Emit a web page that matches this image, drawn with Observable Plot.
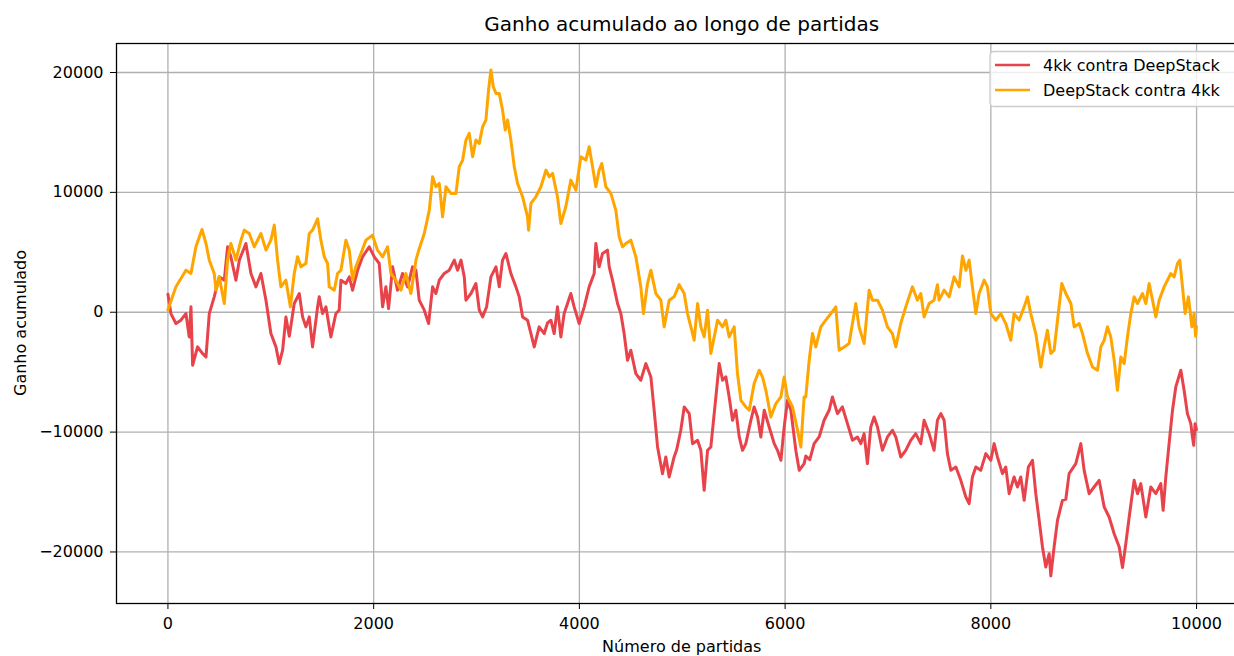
<!DOCTYPE html>
<html><head><meta charset="utf-8">
<script src="https://cdn.jsdelivr.net/npm/d3@7"></script>
<script src="https://cdn.jsdelivr.net/npm/@observablehq/plot@0.6"></script>
<style>
html,body{margin:0;padding:0;background:#fff;overflow:hidden}
#wrap{position:relative;width:1234px;height:656px;overflow:hidden;background:#fff}
#wrap svg{position:absolute;left:0;top:0;max-width:none !important;overflow:visible}
</style>
</head><body><div id="wrap"></div>
<script>
const titleText = "Ganho acumulado ao longo de partidas";
const xLabel = "Número de partidas";
const yLabel = "Ganho acumulado";
const seriesNames = ["4kk contra DeepStack", "DeepStack contra 4kk"];
const seriesColors = ["#e8434b", "#ffa500"];
const xTicks = [0, 2000, 4000, 6000, 8000, 10000];
const yTicks = [-20000, -10000, 0, 10000, 20000];

const redX = [0,29,78,126,175,207,224,240,288,337,370,402,450,499,548,580,612,661,694,758,807,856,904,953,1001,1050,1082,1115,1147,1180,1228,1277,1309,1341,1374,1406,1455,1471,1503,1536,1584,1633,1665,1682,1730,1763,1795,1844,1892,1957,2006,2054,2087,2119,2145,2184,2232,2281,2330,2378,2411,2443,2492,2534,2573,2605,2638,2686,2735,2784,2816,2849,2881,2897,2946,2994,3027,3059,3098,3140,3189,3221,3253,3286,3334,3383,3415,3448,3496,3529,3561,3609,3658,3690,3723,3755,3787,3820,3852,3917,3949,3998,4047,4095,4144,4160,4192,4225,4273,4290,4322,4371,4403,4435,4468,4500,4549,4597,4646,4695,4727,4760,4808,4840,4873,4921,4945,4986,5019,5068,5100,5149,5181,5213,5246,5278,5327,5359,5392,5424,5456,5489,5521,5554,5586,5618,5667,5699,5732,5764,5797,5845,5894,5926,5959,5991,6023,6056,6104,6137,6185,6201,6240,6282,6331,6379,6428,6460,6509,6557,6606,6655,6703,6736,6768,6800,6833,6865,6898,6946,6995,7043,7076,7124,7173,7221,7270,7319,7351,7400,7448,7481,7514,7546,7578,7611,7660,7708,7757,7789,7821,7854,7902,7951,8000,8032,8064,8113,8145,8178,8226,8259,8291,8324,8365,8405,8437,8470,8502,8534,8567,8583,8615,8648,8696,8729,8761,8826,8875,8907,8956,9004,9053,9102,9150,9199,9248,9280,9312,9345,9393,9426,9458,9507,9555,9604,9652,9675,9701,9733,9766,9798,9847,9879,9911,9944,9960,9972,9986,9999];
const redY = [1500,-110,-944,-666,-110,-2058,448,-4422,-2892,-3448,-3727,-110,1283,2952,2675,5457,4622,2675,4344,5735,3231,2118,3231,1005,-1779,-2892,-4283,-3170,-400,-2000,726,1561,-388,-1222,-388,-2892,448,1283,-110,448,-2058,-110,170,2675,2396,2952,1839,3509,4622,5457,4622,4066,448,2118,309,3787,1839,3231,2118,3787,3500,1005,170,-944,2118,1561,2675,3231,3509,4344,3509,4344,2952,1005,1561,2396,170,-388,448,2952,3787,2118,4344,4901,3231,2118,1283,-388,-666,-1779,-2892,-1222,-1779,-900,-666,-1779,448,-2058,-110,1561,448,-944,448,2118,3231,5735,3787,4901,5178,3787,2675,726,-110,-1779,-4005,-3170,-5119,-5675,-4283,-5397,-8180,-11241,-13467,-12076,-13746,-12076,-11500,-9849,-7902,-8459,-10963,-10685,-11519,-14858,-11519,-11241,-7067,-4283,-5675,-5397,-7067,-9015,-8180,-10406,-11519,-10963,-9015,-7902,-8737,-10406,-8180,-9571,-10963,-11519,-12354,-9571,-7345,-8180,-11519,-13189,-12633,-12000,-12300,-10963,-10406,-9015,-8180,-7067,-8459,-7902,-9293,-10685,-10406,-10963,-10128,-12633,-9571,-8737,-9571,-11519,-10406,-9849,-10406,-12076,-11519,-10685,-10128,-10963,-9015,-10128,-11519,-9000,-8459,-9015,-11797,-13189,-12911,-14024,-15415,-15972,-13746,-12911,-13189,-11797,-12354,-10963,-12076,-13467,-12911,-15137,-13746,-14580,-13746,-15694,-12911,-12354,-15137,-17363,-19589,-21260,-20147,-22000,-19589,-17363,-15694,-15600,-13467,-12633,-10963,-13189,-15137,-14580,-14024,-16250,-17085,-18477,-19589,-21300,-19311,-17085,-14024,-15137,-14302,-17085,-14580,-15137,-14302,-16528,-13746,-10963,-8180,-6232,-4841,-6510,-8459,-9293,-10406,-11100,-9300,-9800];

const orangeX = [0,78,175,224,272,331,370,402,450,467,499,548,580,612,661,710,742,791,839,904,953,1001,1034,1066,1098,1147,1190,1228,1260,1293,1341,1374,1406,1455,1487,1520,1552,1568,1617,1649,1682,1730,1763,1795,1827,1876,1925,1989,2038,2087,2135,2168,2216,2265,2313,2362,2411,2443,2492,2541,2573,2605,2638,2670,2703,2751,2800,2832,2865,2897,2929,2962,2994,3027,3059,3091,3117,3140,3163,3189,3221,3253,3279,3302,3334,3367,3399,3448,3496,3506,3529,3577,3626,3675,3707,3739,3787,3820,3868,3917,3966,4014,4063,4095,4128,4160,4192,4218,4257,4306,4354,4387,4419,4452,4500,4549,4597,4623,4662,4695,4743,4792,4824,4873,4921,4970,5019,5051,5084,5116,5149,5181,5213,5246,5278,5311,5343,5392,5424,5456,5505,5537,5570,5618,5651,5699,5748,5780,5813,5861,5910,5959,5991,6023,6072,6121,6153,6185,6201,6234,6266,6298,6347,6395,6444,6493,6525,6574,6622,6671,6687,6719,6768,6817,6849,6898,6946,6995,7043,7076,7124,7173,7238,7286,7319,7351,7400,7448,7481,7497,7546,7595,7643,7692,7724,7757,7789,7821,7854,7886,7935,7967,8000,8048,8097,8145,8194,8226,8275,8324,8356,8388,8437,8486,8518,8550,8583,8615,8648,8690,8729,8778,8810,8859,8891,8940,8988,9037,9069,9102,9134,9166,9199,9231,9264,9296,9328,9361,9393,9426,9474,9507,9539,9572,9604,9636,9685,9717,9750,9782,9814,9837,9863,9889,9921,9954,9976,9990,9999];
const orangeY = [200,2118,3509,3231,5457,6900,5735,4344,3231,1839,2952,726,4344,5735,4344,6014,6849,6570,5457,6570,5178,6014,7266,4344,2118,2675,448,3231,4622,3787,4066,6570,6849,7800,6014,4622,4066,2118,1839,3231,3509,6014,5178,2675,3787,4901,6014,6431,5178,4622,5457,3231,2675,1839,3231,1561,4344,5300,6570,8518,11301,10467,10745,7962,10467,9910,9910,12136,12693,14363,14920,12971,14363,14085,15476,16033,18537,20207,18816,18259,18259,16867,15198,16033,14363,12136,10745,9632,7962,6849,9075,9632,10467,11858,11301,11580,9632,7405,8797,11023,10188,12971,12693,13806,12136,10467,11858,12414,10467,9910,8518,6292,5457,5735,6014,4622,2118,-110,2396,3509,1561,1005,-1222,1005,1283,2300,1561,-110,-1222,-2336,726,-1222,-2058,170,-3448,-2058,-666,-1222,-666,-2058,-1222,-5119,-7345,-7902,-8180,-5953,-4841,-5397,-6510,-8737,-7624,-7067,-5397,-7067,-7902,-9849,-11241,-7067,-7067,-4005,-1779,-2892,-1222,-666,-110,448,-3170,-2892,-2614,-110,726,-1222,-2614,1839,1005,1005,170,-1222,-1779,-2892,-944,448,2118,1005,1561,-388,726,1005,2300,1005,1839,1283,2952,2118,4700,3509,4344,2118,-110,1561,2675,2118,-110,-666,-110,-944,-2336,-110,-666,448,1283,-110,-1779,-4562,-2892,-1500,-3448,-3170,-666,2396,1561,726,-1222,-944,-1779,-3448,-4562,-4841,-2892,-2336,-1222,-2058,-4005,-6510,-3727,-4283,-2058,-110,1283,726,1561,726,2396,1005,-388,1005,2118,2675,3231,2952,4066,4344,2118,-110,1283,-1222,-110,-2000,-1200];

const red = redX.map((x, i) => ({x, y: redY[i]}));
const orange = orangeX.map((x, i) => ({x, y: orangeY[i]}));

const W = 1262, H = 656;
const chart = Plot.plot({
  width: W, height: H,
  marginLeft: 116, marginRight: 14.5, marginTop: 43, marginBottom: 53,
  style: {fontFamily: "DejaVu Sans", fontSize: "16px", color: "#000", background: "#fff", maxWidth: "none"},
  x: {domain: [-500, 10500]},
  y: {domain: [-24300, 22420]},
  marks: [
    Plot.gridX(xTicks, {stroke: "#b0b0b0", strokeOpacity: 1, strokeWidth: 1.3}),
    Plot.gridY(yTicks, {stroke: "#b0b0b0", strokeOpacity: 1, strokeWidth: 1.3}),
    Plot.line(red, {x: "x", y: "y", stroke: seriesColors[0], strokeWidth: 3, strokeLinejoin: "round"}),
    Plot.line(orange, {x: "x", y: "y", stroke: seriesColors[1], strokeWidth: 3, strokeLinejoin: "round"}),
    Plot.frame({stroke: "#000", strokeWidth: 1.3}),
    Plot.axisX({ticks: xTicks, tickSize: 6, tickPadding: 8, tickFormat: d3.format("d"), label: null, stroke: "#000"}),
    Plot.axisY({ticks: yTicks, tickSize: 6, tickPadding: 7, tickFormat: d3.format("d"), label: null, stroke: "#000"})
  ]
});
document.getElementById("wrap").appendChild(chart);

const svg = d3.select(chart);
const ff = "DejaVu Sans";
svg.append("text").attr("x", 681.75).attr("y", 31).attr("text-anchor", "middle")
  .attr("font-family", ff).attr("font-size", 20).attr("fill", "#000").text(titleText);
svg.append("text").attr("x", 681.75).attr("y", 652).attr("text-anchor", "middle")
  .attr("font-family", ff).attr("font-size", 16).attr("fill", "#000").text(xLabel);
svg.append("text").attr("transform", "translate(26,323) rotate(-90)").attr("text-anchor", "middle")
  .attr("font-family", ff).attr("font-size", 16).attr("fill", "#000").text(yLabel);

const lg = svg.append("g");
lg.append("rect").attr("x", 990).attr("y", 51.5).attr("width", 249.5).attr("height", 55).attr("rx", 4)
  .attr("fill", "#fff").attr("fill-opacity", 0.8).attr("stroke", "#cccccc").attr("stroke-width", 1.3);
seriesNames.forEach((name, i) => {
  const cy = 65 + i * 25;
  lg.append("line").attr("x1", 995).attr("x2", 1030).attr("y1", cy).attr("y2", cy)
    .attr("stroke", seriesColors[i]).attr("stroke-width", 2.6);
  lg.append("text").attr("x", 1043).attr("y", cy).attr("dy", "0.35em").attr("text-anchor", "start")
    .attr("font-family", ff).attr("font-size", 16).attr("fill", "#000").text(name);
});
</script>
</body></html>
